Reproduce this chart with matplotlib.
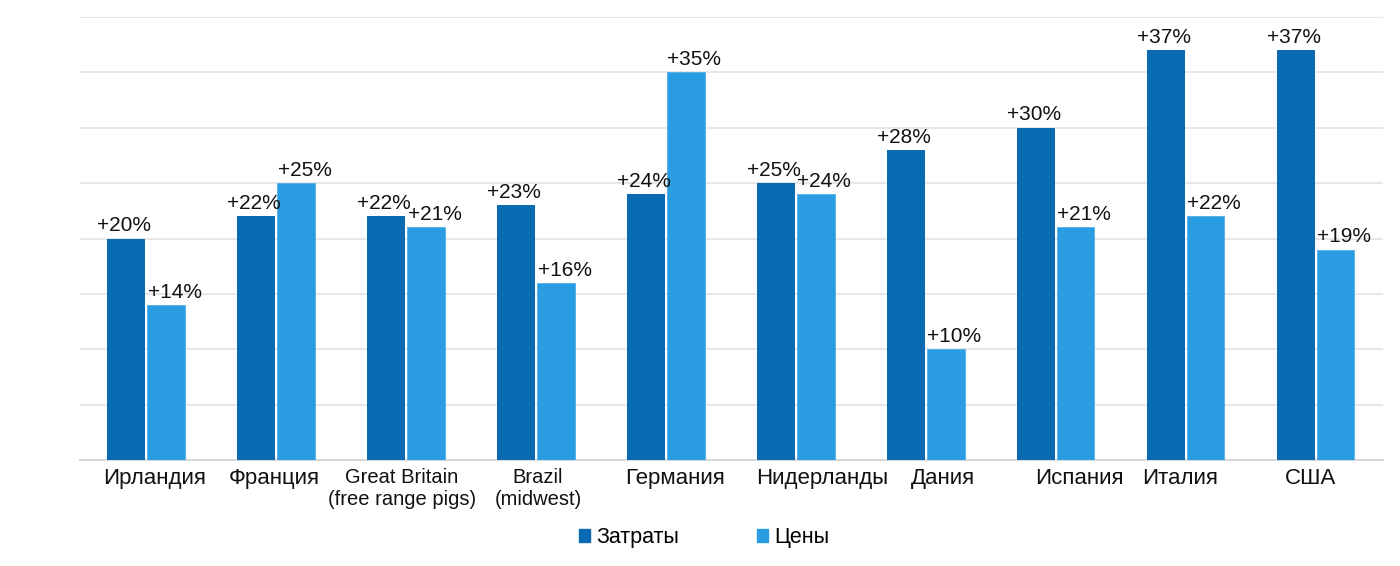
import numpy as np
from matplotlib import pyplot as plt
from matplotlib.patches import Patch
from matplotlib.transforms import ScaledTranslation

plt.rcParams['font.family'] = ['Liberation Sans', 'DejaVu Sans']

# данные
countries = ["Ирландия", "Франция", "Great Britain\n(free range pigs)", "Brazil\n(midwest)",
             "Германия", "Нидерланды", "Дания", "Испания", "Италия", "США"]
costs = [20, 22, 22, 23, 24, 25, 28, 30, 37, 37]
prices = [14, 25, 21, 16, 35, 24, 10, 21, 22, 19]
series_names = ["Затраты", "Цены"]
# сдвиг подписей стран по x (в пикселях), как на картинке
label_shift = [8, -2, -4, 2, 9, 26, 17, 24, -6, -5]

dark = "#0A6AB2"
light = "#2A9DE2"

fig = plt.figure(figsize=(14, 5.66), dpi=100)
ax = fig.add_axes([0.057, 0.187, 0.931, 0.783])

x = np.arange(len(countries))
w = 0.29
ax.bar(x - w / 2 - 0.008, costs, width=w, color=dark, zorder=3)
ax.bar(x + w / 2 + 0.008, prices, width=w, color=light, edgecolor="#4FB0E8", linewidth=0.6, zorder=3)

# подписи значений
for xi, v in zip(x, costs):
    ax.text(xi - w / 2 - 0.025, v + 0.3, "+%d%%" % v, ha="center", va="bottom", fontsize=15, color="#111111")
for xi, v in zip(x, prices):
    ax.text(xi + w / 2 + 0.075, v + 0.3, "+%d%%" % v, ha="center", va="bottom", fontsize=15, color="#111111")

ax.set_xlim(-0.51, 9.52)
ax.set_ylim(0, 40)
ax.set_yticks(range(0, 41, 5))
ax.set_yticklabels([])
ax.grid(axis="y", color="#E3E3E3", linewidth=1.2, zorder=0)
ax.set_xticks(x)
ax.set_xticklabels([])
# подписи стран вручную, чтобы сдвинуть как в оригинале
for xi, name, dx in zip(x, countries, label_shift):
    tr = ax.get_xaxis_transform() + ScaledTranslation(dx / 100, -0.075, fig.dpi_scale_trans)
    fs = 14.5 if "\n" in name else 16
    ax.text(xi, 0, name, transform=tr, ha="center", va="top", fontsize=fs, color="#111111", linespacing=1.2)
ax.tick_params(axis="both", length=0, pad=4)
for s in ["top", "right", "left"]:
    ax.spines[s].set_visible(False)
ax.spines["bottom"].set_color("#D8D8D8")
ax.spines["bottom"].set_linewidth(1.5)

handles = [Patch(color=dark), Patch(color=light)]
fig.legend(handles, series_names, loc="center", bbox_to_anchor=(0.503, 0.05), ncol=2, frameon=False,
           fontsize=15.5, handlelength=0.5, handleheight=0.5, handletextpad=0.3, columnspacing=3.6)

fig.savefig("out.png", dpi=100, facecolor="white")
